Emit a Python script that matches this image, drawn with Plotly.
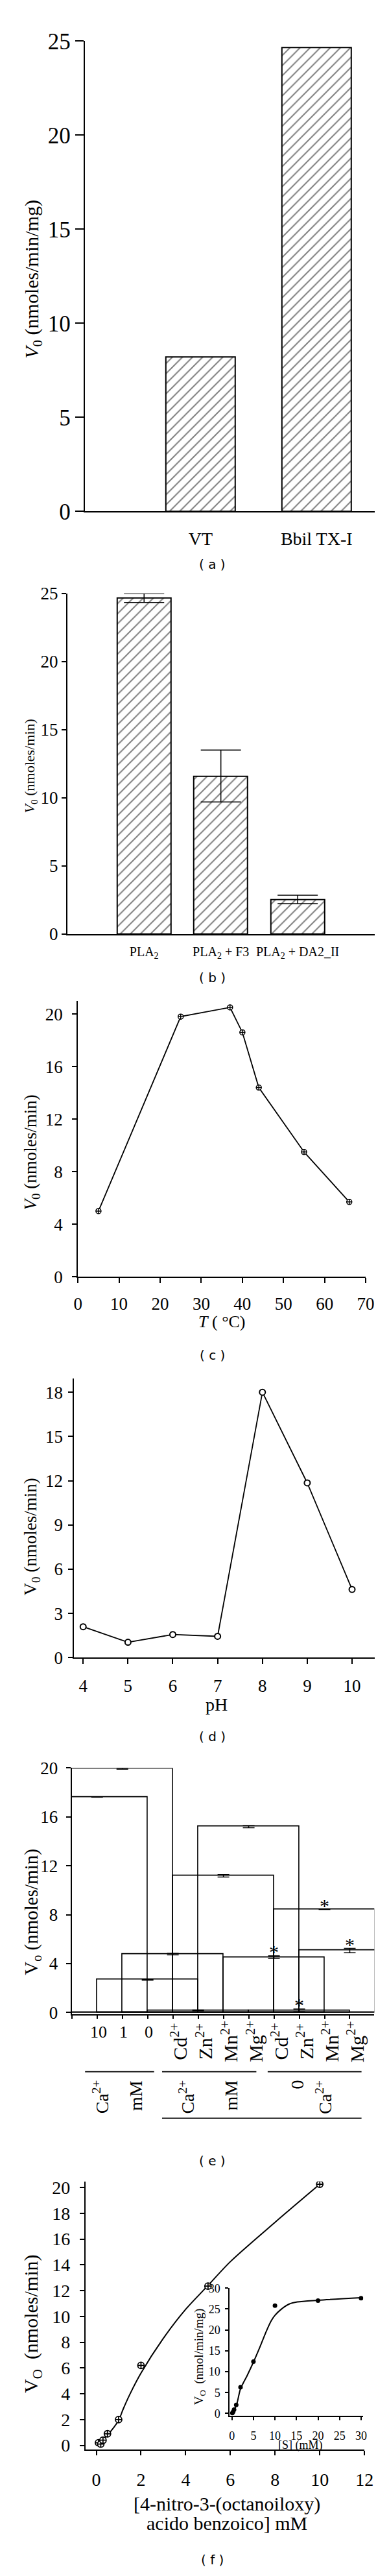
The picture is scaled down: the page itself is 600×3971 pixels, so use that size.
import plotly.graph_objects as go

W, H = 600, 3971
SERIF = "Liberation Serif"
SANS = "DejaVu Sans"

# ---------------- data ----------------
a_categories = ["VT", "Bbil TX-I"]
a_values = [8.2, 24.64]

b_categories = ["PLA<sub>2</sub>", "PLA<sub>2</sub> + F3", "PLA<sub>2</sub> + DA2_II"]
b_values = [24.66, 11.6, 2.55]
b_errors = [0.33, 1.9, 0.31]

c_temperature = [5, 25, 37, 40, 44, 55, 66]
c_velocity = [5.0, 19.8, 20.5, 18.6, 14.4, 9.5, 5.7]

d_ph = [4, 5, 6, 7, 8, 9, 10]
d_velocity = [2.1, 1.05, 1.57, 1.45, 18.0, 11.85, 4.63]

e_categories = ["10", "1", "0",
                "Cd<sup>2+</sup>", "Zn<sup>2+</sup>", "Mn<sup>2+</sup>", "Mg<sup>2+</sup>",
                "Cd<sup>2+</sup>", "Zn<sup>2+</sup>", "Mn<sup>2+</sup>", "Mg<sup>2+</sup>"]
e_values = [17.63, 19.95, 2.68, 4.78, 0.17, 11.18, 15.2, 4.53, 0.17, 8.43, 5.07]
e_errors = [0.02, 0.05, 0.04, 0.06, 0.03, 0.1, 0.09, 0.11, 0.11, 0.0, 0.18]
e_significant = [False, False, False, False, False, False, False, True, True, True, True]
e_group_labels = ["Ca<sup>2+</sup>", "mM", "Ca<sup>2+</sup>", "mM", "0", "Ca<sup>2+</sup>"]

f_substrate = [0.1, 0.2, 0.3, 0.5, 1, 2, 5, 10]
f_velocity = [0.2, 0.1, 0.4, 0.9, 2.0, 6.2, 12.35, 20.25]
f_fit_substrate = [0.1, 0.5, 1.0, 1.2, 1.5, 2.0, 3.0, 4.0, 5.0, 6.0, 8.0, 10.0]
f_fit_velocity = [0.12, 0.8, 1.95, 2.8, 3.95, 5.6, 8.3, 10.55, 12.4, 14.25, 17.3, 20.25]

inset_substrate = [0.1, 0.3, 0.5, 1, 2, 5, 10, 20, 30]
inset_velocity = [0.1, 0.4, 0.9, 2.05, 6.26, 12.4, 25.8, 27.0, 27.6]
inset_fit_substrate = [0, 1, 2, 3.6, 5, 6.5, 8, 9.2, 10, 11.4, 13.3, 15.2, 20, 30]
inset_fit_velocity = [0.1, 1.8, 5.9, 9.2, 12.3, 15.9, 19.7, 22.3, 23.5, 24.9, 26.2, 26.7, 27.1, 27.7]

# ---------------- layout geometry (page pixels) ----------------
BOX = {  # left, right, top, bottom
    1: (120, 583, 36.7, 769),
    2: (92, 583, 896.5, 1427),
    3: (109, 569, 1531.5, 1960.5),
    4: (103, 583, 2118.8, 2553.5),
    5: (99.2, 582.7, 2725.2, 3108.7),
    6: (121.2, 567, 3368.8, 3786),
    7: (351.7, 565, 3535, 3733.3),
}


def PX(x):
    return x / W


def PY(y):
    return 1 - y / H


def sfx(n):
    return "" if n == 1 else str(n)


base_axis = dict(showline=True, linecolor="black", linewidth=2, showgrid=False,
                 zeroline=False, ticks="outside", tickcolor="black", tickwidth=2,
                 ticklen=7, fixedrange=True, tickangle=0)

layout_axes = {}


def add_axes(n, xkw, ykw):
    l, r, t, b = BOX[n]
    xa = dict(base_axis)
    xa.update(domain=[PX(l), PX(r)], anchor="y" + sfx(n))
    xa.update(xkw)
    ya = dict(base_axis)
    ya.update(domain=[PY(b), PY(t)], anchor="x" + sfx(n))
    ya.update(ykw)
    layout_axes["xaxis" + sfx(n)] = xa
    layout_axes["yaxis" + sfx(n)] = ya


def tf(size):
    return dict(family=SERIF, size=size, color="black")


fig = go.Figure()

hatch = dict(shape="/", fgcolor="black", bgcolor="white", size=11, solidity=0.18)

# (a)
a_x = list(range(1, len(a_categories) + 1))
fig.add_trace(go.Bar(x=a_x, y=a_values, width=0.6, xaxis="x", yaxis="y",
                     marker=dict(color="white", pattern=hatch, line=dict(color="black", width=2))))
add_axes(1, dict(range=[0, 2.5], tickvals=a_x, ticktext=a_categories, ticks="",
                 tickfont=tf(28), ticklabelstandoff=16),
         dict(range=[0, 25], tickvals=[0, 5, 10, 15, 20, 25], ticklen=13, tickfont=tf(35)))

# (b)
b_x = list(range(1, len(b_categories) + 1))
fig.add_trace(go.Bar(x=b_x, y=b_values, width=0.7, xaxis="x2", yaxis="y2",
                     marker=dict(color="white", pattern=hatch, line=dict(color="black", width=2)),
                     error_y=dict(type="data", array=b_errors, color="black", thickness=1.5, width=31)))
add_axes(2, dict(range=[0, 4], tickvals=b_x, ticktext=b_categories, ticks="",
                 tickfont=tf(20), ticklabelstandoff=8),
         dict(range=[0, 25], tickvals=[0, 5, 10, 15, 20, 25], tickfont=tf(27)))

# (c)
fig.add_trace(go.Scatter(x=c_temperature, y=c_velocity, mode="lines+markers", xaxis="x3", yaxis="y3",
                         line=dict(color="black", width=1.8),
                         marker=dict(symbol="circle-cross", size=8, color="white",
                                     line=dict(color="black", width=1.5))))
add_axes(3, dict(range=[0, 70], tickvals=list(range(0, 71, 10)), ticklen=8, tickfont=tf(27),
                 ticklabelstandoff=8),
         dict(range=[0, 20.97], tickvals=list(range(0, 21, 4)), tickfont=tf(27), ticklabelstandoff=9))

# (d)
fig.add_trace(go.Scatter(x=d_ph, y=d_velocity, mode="lines+markers", xaxis="x4", yaxis="y4",
                         line=dict(color="black", width=1.8),
                         marker=dict(symbol="circle", size=9, color="white",
                                     line=dict(color="black", width=2))))
add_axes(4, dict(range=[3.8, 10.5], tickvals=list(range(4, 11)), ticklen=8, tickfont=tf(27),
                 ticklabelstandoff=10),
         dict(range=[0, 18.93], tickvals=list(range(0, 19, 3)), tickfont=tf(27), ticklabelstandoff=3))

# (e)
e_x = list(range(1, len(e_categories) + 1))
fig.add_trace(go.Bar(x=e_x, y=e_values, width=4, xaxis="x5", yaxis="y5",
                     marker=dict(color="rgba(0,0,0,0)", line=dict(color="black", width=1.6)),
                     error_y=dict(type="data", array=e_errors, color="black", thickness=1.5, width=9)))
add_axes(5, dict(range=[0, len(e_categories) + 0.97], tickvals=list(range(0, len(e_categories) + 1)),
                 showticklabels=False, ticklen=5),
         dict(range=[-0.15, 20], tickvals=list(range(0, 21, 4)), tickfont=tf(27), ticklabelstandoff=7))

# (f) main
fig.add_trace(go.Scatter(x=f_fit_substrate, y=f_fit_velocity, mode="lines", xaxis="x6", yaxis="y6",
                         line=dict(color="black", width=2, shape="spline", smoothing=0.8)))
fig.add_trace(go.Scatter(x=f_substrate, y=f_velocity, mode="markers", xaxis="x6", yaxis="y6",
                         marker=dict(symbol="circle-cross", size=10, color="white",
                                     line=dict(color="black", width=1.8))))
add_axes(6, dict(range=[-0.48, 12], tickvals=list(range(0, 13, 2)), tickfont=tf(28),
                 ticklabelstandoff=14),
         dict(range=[-0.31, 20.47], tickvals=list(range(0, 21, 2)), tickfont=tf(28), ticklabelstandoff=9))

# (f) inset
fig.add_trace(go.Scatter(x=inset_fit_substrate, y=inset_fit_velocity, mode="lines", xaxis="x7", yaxis="y7",
                         line=dict(color="black", width=2, shape="spline", smoothing=0.8)))
fig.add_trace(go.Scatter(x=inset_substrate, y=inset_velocity, mode="markers", xaxis="x7", yaxis="y7",
                         marker=dict(symbol="circle", size=7, color="black")))
add_axes(7, dict(range=[-0.5, 30.5], tickvals=list(range(0, 31, 5)), ticklen=5, tickfont=tf(18),
                 ticklabelstandoff=9),
         dict(range=[-0.5, 30], tickvals=list(range(0, 31, 5)), ticklen=5, tickfont=tf(18),
              ticklabelstandoff=4))

annotations = []
shapes = []


def text(x, y, s, size, angle=0, family=SERIF, **kw):
    d = dict(x=PX(x), y=PY(y), xref="paper", yref="paper", text=s, showarrow=False,
             font=dict(family=family, size=size, color="black"), textangle=angle,
             xanchor="center", yanchor="middle")
    d.update(kw)
    annotations.append(d)


# axis titles
text(37, 407, "<i>V</i><sub>0</sub> (nmoles/min/mg)", 30, -90)
text(33, 1165, "<i>V</i><sub>0</sub> (nmoles/min)", 22, -90)
text(35, 1767, "<i>V</i><sub>0</sub> (nmoles/min)", 27, -90)
text(339, 2030, "<i>T</i> ( °C)", 26)
text(35, 2365, "V<sub>0</sub> (nmoles/min)", 27, -90)
text(331, 2626.5, "pH", 28)
text(36, 2949, "V<sub>o</sub> (nmoles/min)", 29, -90)
text(36.5, 3590, "V<sub>O</sub>  (nmoles/min)", 30, -90)
text(347, 3871, "[4-nitro-3-(octanoiloxy)", 30)
text(347, 3901, "acido benzoico] mM", 30)
text(304, 3642, "V<sub>O</sub>  (nmol/min/mg)", 19, -90)
text(465, 3780, "[S] (mM)", 18)

# panel labels
for lab, y in zip(["a", "b", "c", "d", "e", "f"], [851.7, 1494.8, 2082, 2676.5, 3337, 3957.7]):
    text(323.5, y, "( %s )" % lab, 20, family=SANS)

# (e) category labels
for i, lab in enumerate(e_categories):
    ion = "<sup>" in lab
    annotations.append(dict(
        x=e_x[i], y=PY(3151 if ion else 3136), xref="x5", yref="paper", text=lab, showarrow=False,
        font=dict(family=SERIF, size=30 if ion else 26, color="black"),
        textangle=-90 if ion else 0, xanchor="center", yanchor="middle", xshift=9 if ion else 2))

# (e) significance stars
for i, sig in enumerate(e_significant):
    if sig:
        annotations.append(dict(
            x=e_x[i], y=e_values[i] + e_errors[i] + 0.6, xref="x5", yref="y5", text="*",
            showarrow=False, font=dict(family=SERIF, size=30, color="black"),
            xanchor="center", yanchor="middle", yshift=-5))

# (e) group labels (second row)
group_label_x = [146, 202, 283, 354, 460, 502]
for lab, gx in zip(e_group_labels, group_label_x):
    text(gx, 3209, lab, 28, -90, yanchor="top")

# (e) group underlines
for x0, x1, y in [(120.4, 230.8, 3198), (243.5, 394.2, 3198), (412.3, 562.3, 3198),
                  (243.5, 562.3, 3270.4)]:
    shapes.append(dict(type="line", xref="paper", yref="paper", x0=PX(x0), x1=PX(x1),
                       y0=PY(y), y1=PY(y), line=dict(color="black", width=1.6)))

fig.update_layout(
    width=W, height=H, margin=dict(l=0, r=0, t=0, b=0),
    paper_bgcolor="white", plot_bgcolor="rgba(0,0,0,0)",
    showlegend=False, bargap=0, annotations=annotations, shapes=shapes,
    **layout_axes,
)

fig.write_html("out.html")
